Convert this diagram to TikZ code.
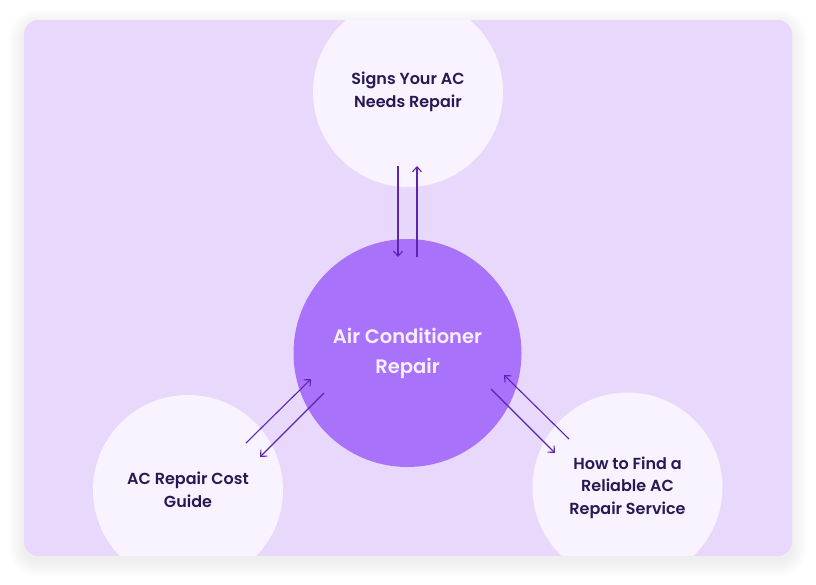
\documentclass[tikz,border=0pt]{standalone}
\usepackage{fontspec}
\setmainfont{Poppins}
\newfontfamily\labelfont{Poppins SemiBold}
\usetikzlibrary{arrows.meta}
\definecolor{bgpanel}{HTML}{E7D8FC}
\definecolor{soft}{HTML}{F8F3FE}
\definecolor{hub}{HTML}{A972FB}
\definecolor{ink}{HTML}{261A55}
\definecolor{hubtext}{HTML}{F6EFFF}
\definecolor{arrowc}{HTML}{5B25B0}
\begin{document}
\begin{tikzpicture}[x=1pt,y=-1pt,
  leaf/.style={circle,fill=soft,minimum size=190pt,inner sep=0pt,align=center,
    text=ink,font=\labelfont\fontsize{16}{22.5}\selectfont},
  hubnode/.style={circle,fill=hub,minimum size=228pt,inner sep=0pt,align=center,
    text=hubtext,font=\labelfont\fontsize{19.5}{30}\selectfont},
  conn/.style={draw=arrowc,line width=1.1pt,-{Straight Barb[length=5pt,width=9pt]}}]
\useasboundingbox (0,0) rectangle (816,584);
\fill[white] (0,0) rectangle (816,584);
\foreach \i in {1,...,16}{
  \fill[black,opacity=0.004,rounded corners={14pt+\i pt}] (24-\i,20-\i+5) rectangle (792+\i,556+\i+5);
}
\fill[bgpanel,rounded corners=14pt] (24,20) rectangle (792,556);
\begin{scope}
\clip[rounded corners=14pt] (24,20) rectangle (792,556);
\node[leaf] (signs) at (408,92) {Signs Your AC\\Needs Repair};
\node[leaf] (cost) at (188,490) {AC Repair Cost\\Guide};
\node[leaf] (find) at (627.5,487.5) {How to Find a\\Reliable AC\\Repair Service};
\node[hubnode] (hub) at (407.5,353) {Air Conditioner\\Repair};
\end{scope}
% connector end points
\coordinate (sdA) at (398,166);
\coordinate (sdB) at (398,257);
\coordinate (suA) at (417,257);
\coordinate (suB) at (417,166);
\coordinate (cuA) at (246,443);
\coordinate (cuB) at (311,379);
\coordinate (cdA) at (324,393);
\coordinate (cdB) at (260,457);
\coordinate (fuA) at (569,439);
\coordinate (fuB) at (504,375);
\coordinate (fdA) at (491,389);
\coordinate (fdB) at (555,453);
\draw[conn] (sdA) -- (sdB);
\draw[conn] (suA) -- (suB);
\draw[conn] (cuA) -- (cuB);
\draw[conn] (cdA) -- (cdB);
\draw[conn] (fuA) -- (fuB);
\draw[conn] (fdA) -- (fdB);
\end{tikzpicture}
\end{document}
